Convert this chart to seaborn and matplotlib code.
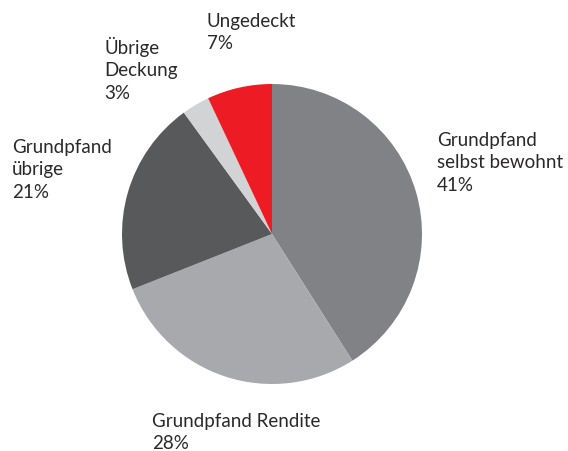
import matplotlib
matplotlib.use("Agg")
import matplotlib.pyplot as plt
import seaborn as sns

sns.set_theme(style="white")
plt.rcParams["font.family"] = ["Lato", "DejaVu Sans"]

categories = ["Grundpfand\nselbst bewohnt", "Grundpfand Rendite", "Grundpfand\nübrige",
              "Übrige\nDeckung", "Ungedeckt"]
shares = [41, 28, 21, 3, 7]
colors = ["#808285", "#a7a9ac", "#58595b", "#d1d3d4", "#ed1c24"]

W, H = 568, 452
fig = plt.figure(figsize=(W / 100, H / 100), dpi=100)
fig.patch.set_facecolor("white")
ax = fig.add_axes([0, 0, 1, 1])

# pie centre and radius in pixels
cx, cy, r = 272, 235, 150
ax.pie(shares, colors=colors, startangle=90, counterclock=False, radius=1,
       wedgeprops=dict(linewidth=0))
ax.set_xlim(-cx / r, (W - cx) / r)
ax.set_ylim(-(H - cy) / r, cy / r)
ax.set_aspect("auto")
ax.axis("off")

# label anchors (left, top) in pixels
anchors = [(437, 132), (152, 413), (12, 139), (104, 37), (207, 13)]
for cat, val, (px, py) in zip(categories, shares, anchors):
    fig.text(px / W, 1 - py / H, f"{cat}\n{val}%", ha="left", va="top",
             fontsize=13.5, color="#2b2829", linespacing=1.38)

fig.savefig("out.png", dpi=100, facecolor="white")
